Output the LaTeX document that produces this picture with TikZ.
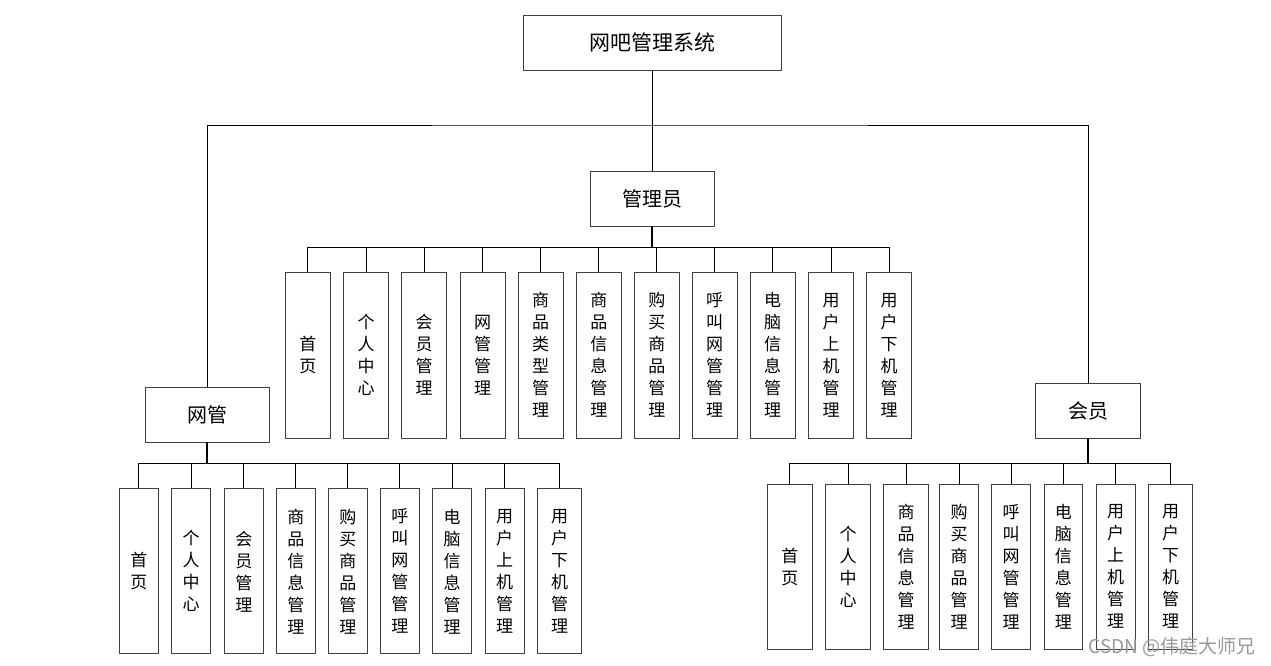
\documentclass[tikz,border=0pt]{standalone}
\usepackage{fontspec}
\newfontfamily\cjk{Noto Sans CJK SC}
\begin{document}
\begin{tikzpicture}[x=1pt,y=-1pt,
  box/.style={draw=black!75, line width=0.9pt, fill=white, inner sep=0pt, align=center},
  head/.style={box, minimum height=55pt, font=\cjk\fontsize{20}{24}\selectfont},
  leaf/.style={box, minimum height=166pt, font=\cjk\fontsize{17}{22}\selectfont},
  wire/.style={draw=black, line width=0.8pt},
  stub/.style={draw=black, line width=1.6pt}]
\useasboundingbox (0,0) rectangle (1271,666);
% top level
\node[head, minimum width=258pt, font=\cjk\fontsize{21}{25}\selectfont] (top) at (652,42.5) {网吧管理系统};
\node[head, minimum width=124pt] (admin) at (652,198.5) {管理员};
\node[head, minimum width=124pt] (net) at (207,414.5) {网管};
\node[head, minimum width=105pt] (mem) at (1088,410.5) {会员};
\coordinate (j) at (652,125);
\draw[wire] (top.south) -- (admin.north);
\draw[wire] (net.north) |- (j) -| (mem.north);
% admin children
\coordinate (abus) at (652,247);
\draw[stub] (admin.south) -- (abus);
\foreach \cx/\w/\t/\n in {307.8/45/{首\\页}/a1, 366.2/45/{个\\人\\中\\心}/a2, 424.1/45/{会\\员\\管\\理}/a3,
  482.5/45/{网\\管\\管\\理}/a4, 540.5/45/{商\\品\\类\\型\\管\\理}/a5, 598.8/45/{商\\品\\信\\息\\管\\理}/a6,
  656.8/45/{购\\买\\商\\品\\管\\理}/a7, 714.7/45/{呼\\叫\\网\\管\\管\\理}/a8, 772.7/45/{电\\脑\\信\\息\\管\\理}/a9,
  831.1/45/{用\\户\\上\\机\\管\\理}/a10, 889/45/{用\\户\\下\\机\\管\\理}/a11}{
  \node[leaf, minimum width=\w pt] (\n) at (\cx,355) {\t};
  \draw[wire] (\n.north) |- (abus);
}
% net children
\coordinate (nbus) at (207,463);
\draw[stub] (net.south) -- (nbus);
\foreach \cx/\w/\t/\n in {138.8/39/{首\\页}/n1, 191.2/39/{个\\人\\中\\心}/n2, 243.8/39/{会\\员\\管\\理}/n3,
  295.8/39/{商\\品\\信\\息\\管\\理}/n4, 347.8/39/{购\\买\\商\\品\\管\\理}/n5, 399.8/39/{呼\\叫\\网\\管\\管\\理}/n6,
  452.2/39/{电\\脑\\信\\息\\管\\理}/n7, 504.5/39/{用\\户\\上\\机\\管\\理}/n8, 559.5/44.4/{用\\户\\下\\机\\管\\理}/n9}{
  \node[leaf, minimum width=\w pt, minimum height=165pt] (\n) at (\cx,571.3) {\t};
  \draw[wire] (\n.north) |- (nbus);
}
% member children
\coordinate (mbus) at (1088,463);
\draw[stub] (mem.south) -- (mbus);
\foreach \cx/\w/\t/\n in {789.8/45/{首\\页}/m1, 848/44.6/{个\\人\\中\\心}/m2, 906/44.6/{商\\品\\信\\息\\管\\理}/m3,
  959/38.6/{购\\买\\商\\品\\管\\理}/m4, 1011/38.6/{呼\\叫\\网\\管\\管\\理}/m5, 1063.3/38.7/{电\\脑\\信\\息\\管\\理}/m6,
  1115.7/38.7/{用\\户\\上\\机\\管\\理}/m7, 1170.5/44.4/{用\\户\\下\\机\\管\\理}/m8}{
  \node[leaf, minimum width=\w pt, minimum height=165pt] (\n) at (\cx,566.7) {\t};
  \draw[wire] (\n.north) |- (mbus);
}
% watermark
\node[font=\cjk\fontsize{19}{21}\selectfont, text=black!40, anchor=east, inner sep=0pt] (wm) at (1256,647) {CSDN @伟庭大师兄};
\end{tikzpicture}
\end{document}
